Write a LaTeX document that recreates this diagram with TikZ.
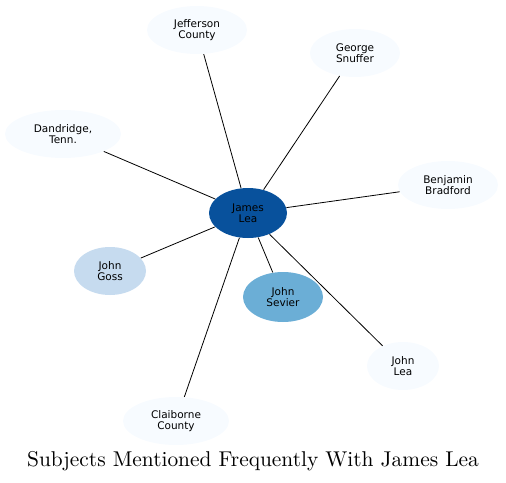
\documentclass[tikz,border=0pt]{standalone}
\usepackage{fontspec}
\newfontfamily\nodefont{DejaVu Sans}
\newfontfamily\titlefont{lmroman10-regular}[Extension=.otf]
\usetikzlibrary{shapes.geometric}
\definecolor{hub}{HTML}{08519C}
\definecolor{mid}{HTML}{6BAED6}
\definecolor{pale}{HTML}{C6DBEF}
\definecolor{faint}{HTML}{F7FBFF}
\begin{document}
\begin{tikzpicture}[x=1pt,y=-1pt,line width=.8pt,
  subj/.style={ellipse,fill=faint,inner sep=0pt,align=center,
    font=\nodefont\fontsize{10.5}{11.5}\selectfont}]
\useasboundingbox (0,0) rectangle (506,482);
\node[subj,fill=hub,minimum width=78,minimum height=50] (lea) at (248,213) {James\\Lea};
\node[subj,minimum width=100,minimum height=48] (jeff) at (197,30) {Jefferson\\County};
\node[subj,minimum width=90,minimum height=48] (snuff) at (355,53) {George\\Snuffer};
\node[subj,minimum width=116,minimum height=48] (dand) at (63,134) {Dandridge,\\Tenn.};
\node[subj,minimum width=100,minimum height=48] (brad) at (448,185) {Benjamin\\Bradford};
\node[subj,fill=pale,minimum width=72,minimum height=48] (goss) at (110,271) {John\\Goss};
\node[subj,fill=mid,minimum width=80,minimum height=50] (sev) at (283,297) {John\\Sevier};
\node[subj,minimum width=72,minimum height=48] (jlea) at (403,366) {John\\Lea};
\node[subj,minimum width=106,minimum height=48] (clai) at (176,421) {Claiborne\\County};
\foreach \n in {jeff,snuff,dand,brad,goss,sev,jlea,clai}{\draw (lea)--(\n);}
\node[font=\titlefont\fontsize{21.4}{24}\selectfont] (title) at (253,461) {Subjects Mentioned Frequently With James Lea};
\end{tikzpicture}
\end{document}
